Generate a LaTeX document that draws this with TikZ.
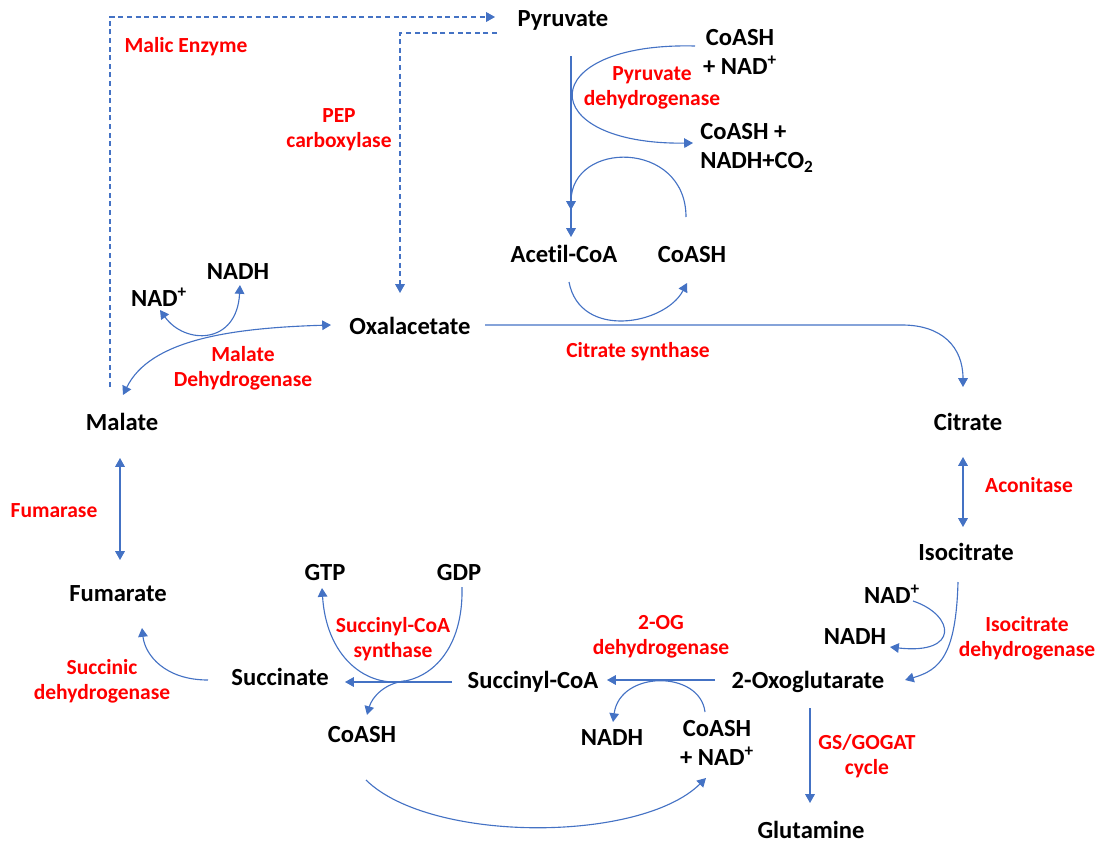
\documentclass[tikz,border=0pt]{standalone}
\usepackage{fontspec}
\setmainfont{Carlito}[Ligatures=NoCommon]
\usepackage{tikz}
\usetikzlibrary{arrows.meta, positioning}
\definecolor{flow}{RGB}{68,114,196}

\begin{document}
\begin{tikzpicture}[
    x=0.25mm, y=-0.25mm,
    met/.style={font=\fontsize{17.5}{20.5}\selectfont\bfseries, align=center, inner sep=0pt},
    enz/.style={text=red, font=\fontsize{15.3}{17.8}\selectfont\bfseries, align=center, inner sep=0pt},
    arrow/.style={flow, line width=0.8pt, -{Triangle[length=2.2mm, width=2.4mm]}},
    twoway/.style={arrow, {Triangle[length=2.2mm, width=2.4mm]}-{Triangle[length=2.2mm, width=2.4mm]}},
    bypass/.style={arrow, dash pattern=on 1.25mm off 0.9mm}
]
\useasboundingbox (0,0) rectangle (1101,843);

\node[met] (pyr) at (563,20) {Pyruvate};
\node[met] (coa1) at (740,52) {CoASH\\+ NAD\textsuperscript{+}};
\node[enz] (pdh) at (652,88) {Pyruvate\\dehydrogenase};
\node[met, align=left, anchor=west] (coa2) at (700,148) {CoASH +\\NADH+CO\textsubscript{2}};
\node[met] (acoa) at (564,254) {Acetil-CoA};
\node[met] (coa3) at (692,255) {CoASH};
\node[met] (oaa) at (410,326) {Oxalacetate};
\node[enz] (cs) at (638,352) {Citrate synthase};
\node[met] (cit) at (968,422) {Citrate};
\node[enz] (aco) at (1029,485) {Aconitase};
\node[met] (icit) at (966,552) {Isocitrate};
\node[met] (nad1) at (892,594) {NAD\textsuperscript{+}};
\node[met] (nadh1) at (855,637) {NADH};
\node[enz] (idh) at (1027,638) {Isocitrate\\dehydrogenase};
\node[met] (oxg) at (808,682) {2-Oxoglutarate};
\node[enz] (gsg) at (867,756) {GS/GOGAT\\cycle};
\node[met] (gln) at (811,830) {Glutamine};
\node[enz] (ogdh) at (661,637) {2-OG\\dehydrogenase};
\node[met] (scoa) at (533,682) {Succinyl-CoA};
\node[met] (nadh2) at (612,738) {NADH};
\node[met] (coa4) at (717,743) {CoASH\\+ NAD\textsuperscript{+}};
\node[met] (succ) at (280,677) {Succinate};
\node[met] (gtp) at (325,573) {GTP};
\node[met] (gdp) at (459,573) {GDP};
\node[enz] (scs) at (393,639) {Succinyl-CoA\\synthase};
\node[met] (coa5) at (362,735) {CoASH};
\node[met] (fum) at (118,594) {Fumarate};
\node[enz] (sdh) at (102,681) {Succinic\\dehydrogenase};
\node[enz] (fumase) at (54,511) {Fumarase};
\node[met] (mal) at (122,422) {Malate};
\node[enz] (mdh) at (243,368) {Malate\\Dehydrogenase};
\node[met] (nad2) at (159,297) {NAD\textsuperscript{+}};
\node[met] (nadh3) at (238,272) {NADH};
\node[enz] (me) at (186,47) {Malic Enzyme};
\node[enz] (pepc) at (339,130) {PEP\\carboxylase};

\draw[bypass] ([shift={(-12,-35)}]mal.center) |- ([shift={(-68,-3)}]pyr.center);
\draw[bypass] ([shift={(-66,13)}]pyr.center) -| ([shift={(-10,-33)}]oaa.center);
\draw[arrow] ([shift={(8,36)}]pyr.center) -- ([shift={(7,-17)}]acoa.center);
\draw[arrow] ([shift={(-45,-6)}]coa1.center) .. controls +(-162,-4) and +(-160,2) .. ([shift={(-7,-5)}]coa2.west);
\draw[arrow] ([shift={(-6,-38)}]coa3.center) .. controls +(0,-77) and +(0,-70) .. ([shift={(7,-44)}]acoa.center);
\draw[arrow] ([shift={(5,28)}]acoa.center) .. controls +(11,58) and +(-22,42) .. ([shift={(-5,28)}]coa3.center);
\draw[arrow] ([shift={(75,-1)}]oaa.center) -- ++(417,0) .. controls +(40,0) and +(0,-40) .. ([shift={(-5,-35)}]cit.center);
\draw[twoway] ([shift={(-5,35)}]cit.center) -- ([shift={(-3,-25)}]icit.center);
\draw[arrow] ([shift={(-8,30)}]icit.center) .. controls +(-2,73) and +(35,-10) .. ([shift={(97,-2)}]oxg.center);
\draw[arrow] ([shift={(21,7)}]nad1.center) .. controls +(42,14) and +(70,8) .. ([shift={(35,10)}]nadh1.center);
\draw[arrow] ([shift={(2,26)}]oxg.center) -- ([shift={(-1,-27)}]gln.center);
\draw[arrow] ([shift={(-93,-2)}]oxg.center) -- ([shift={(74,-2)}]scoa.center);
\draw[arrow] ([shift={(-12,-31)}]coa4.center) .. controls +(-5,-42) and +(7,-52) .. ([shift={(1,-16)}]nadh2.center);
\draw[arrow] ([shift={(4,45)}]coa5.center) .. controls +(64,63) and +(-66,65) .. ([shift={(-11,35)}]coa4.center);
\draw[arrow] ([shift={(-81,0)}]scoa.center) -- ([shift={(65,5)}]succ.center);
\draw[arrow] ([shift={(3,14)}]gdp.center) .. controls +(3,125) and +(8,124) .. ([shift={(-3,15)}]gtp.center);
\draw[arrow] ([shift={(43,-54)}]coa5.center) .. controls +(-20,2) and +(5,-18) .. ([shift={(5,-20)}]coa5.center);
\draw[arrow] ([shift={(-72,3)}]succ.center) .. controls +(-43,0) and +(3,27) .. ([shift={(24,34)}]fum.center);
\draw[twoway] ([shift={(-2,36)}]mal.center) -- ([shift={(2,-34)}]fum.center);
\draw[twoway] ([shift={(-79,-1)}]oaa.center) .. controls +(-101,3) and +(27,-55) .. ([shift={(1,-27)}]mal.center);
\draw[twoway] ([shift={(1,13)}]nad2.center) .. controls +(25,35) and +(-3,60) .. ([shift={(2,13)}]nadh3.center);

\end{tikzpicture}
\end{document}
